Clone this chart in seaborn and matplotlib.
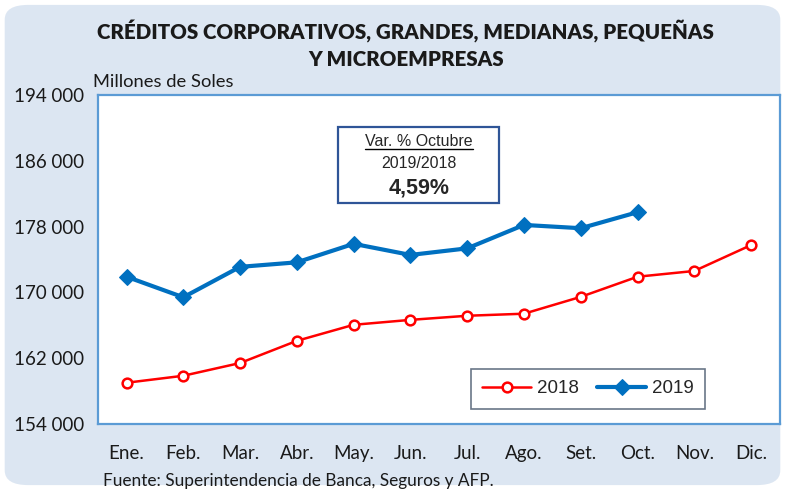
import matplotlib
matplotlib.use("Agg")
import matplotlib.pyplot as plt
from matplotlib.patches import FancyBboxPatch, Rectangle
from matplotlib.ticker import FixedLocator, FuncFormatter
import seaborn as sns
import pandas as pd

# data (millones de soles)
meses = ["Ene.", "Feb.", "Mar.", "Abr.", "May.", "Jun.", "Jul.", "Ago.", "Set.", "Oct.", "Nov.", "Dic."]
v2018 = [159000, 159850, 161400, 164100, 166050, 166650, 167150, 167400, 169450, 171900, 172600, 175750]
v2019 = [171900, 169400, 173100, 173650, 175900, 174550, 175350, 178200, 177800, 179750]
yticks = [154000, 162000, 170000, 178000, 186000, 194000]

df18 = pd.DataFrame({"x": range(len(v2018)), "valor": v2018})
df19 = pd.DataFrame({"x": range(len(v2019)), "valor": v2019})

sns.set_style("white")
plt.rcParams["font.family"] = ["Lato", "DejaVu Sans"]

fig = plt.figure(figsize=(7.85, 4.9), dpi=100)
fig.patch.set_facecolor("white")
bg = FancyBboxPatch((0.006, 0.01), 0.988, 0.98, boxstyle="round,pad=0,rounding_size=0.03",
                    transform=fig.transFigure, facecolor="#dce6f2", edgecolor="none", zorder=-10)
fig.patches.append(bg)

ax = fig.add_axes([0.125, 0.135, 0.868, 0.671])
ax.set_facecolor("white")

sns.lineplot(data=df18, x="x", y="valor", ax=ax, color="#ff0000", linewidth=1.8,
             marker="o", markersize=7, markerfacecolor="white", markeredgecolor="#ff0000",
             markeredgewidth=1.8, label="2018")
sns.lineplot(data=df19, x="x", y="valor", ax=ax, color="#0070c0", linewidth=3,
             marker="D", markersize=8, markerfacecolor="#0070c0", markeredgecolor="#0070c0",
             label="2019")

ax.set_xlim(-0.5, 11.5)
ax.set_ylim(154000, 194000)
ax.set_xticks(range(12))
ax.set_xticklabels(meses)
ax.xaxis.set_minor_locator(FixedLocator([i - 0.5 for i in range(13)]))
ax.tick_params(axis="x", which="major", length=0, pad=15, labelsize=13.5, colors="#1a1a1a")
ax.tick_params(axis="x", which="minor", length=5, width=1, color="#5b9bd5", direction="out")
ax.set_yticks(yticks)
ax.yaxis.set_major_formatter(FuncFormatter(lambda v, p: f"{int(v):,}".replace(",", " ")))
ax.tick_params(axis="y", length=5, width=1, color="#5b9bd5", direction="out", labelsize=13.5,
               labelcolor="#1a1a1a", pad=5)
ax.set_xlabel("")
ax.set_ylabel("")
for s in ax.spines.values():
    s.set_visible(True)
    s.set_color("#5b9bd5")
    s.set_linewidth(1.6)

leg = ax.legend(loc="lower right", bbox_to_anchor=(0.89, 0.046), borderaxespad=0, ncol=2,
                frameon=True, fancybox=False, prop={"family": "Liberation Sans", "size": 13.5},
                handlelength=2.6, columnspacing=1.0, handletextpad=0.3, borderpad=0.6)
leg.get_frame().set_edgecolor("#44546a")
leg.get_frame().set_linewidth(1.2)

# annotation box
box = Rectangle((0.352, 0.672), 0.237, 0.232, transform=ax.transAxes, facecolor="white",
                edgecolor="#2f5597", linewidth=1.6, zorder=5)
ax.add_patch(box)
t1 = ax.text(0.4705, 0.858, "Var. % Octubre", transform=ax.transAxes, ha="center", va="center",
             family="Liberation Sans", fontsize=11.5, zorder=6)
ax.text(0.4705, 0.792, "2019/2018", transform=ax.transAxes, ha="center", va="center",
        family="Liberation Sans", fontsize=11.5, zorder=6)
ax.text(0.4705, 0.717, "4,59%", transform=ax.transAxes, ha="center", va="center",
        family="Liberation Sans", fontsize=15.5, fontweight="bold", zorder=6)
fig.canvas.draw()
bb = t1.get_window_extent().transformed(ax.transAxes.inverted())
ax.plot([bb.x0, bb.x1], [bb.y0 + 0.002, bb.y0 + 0.002], transform=ax.transAxes,
        color="black", linewidth=1, zorder=6)

fig.text(0.517, 0.935, "CRÉDITOS CORPORATIVOS, GRANDES, MEDIANAS, PEQUEÑAS",
         ha="center", va="center", fontsize=14.8, fontweight="heavy", color="#1a1a1a")
fig.text(0.517, 0.878, "Y MICROEMPRESAS", ha="center", va="center", fontsize=14.8,
         fontweight="heavy", color="#1a1a1a")
fig.text(0.118, 0.832, "Millones de Soles", ha="left", va="center", fontsize=13.2, color="#1a1a1a")
fig.text(0.131, 0.018, "Fuente: Superintendencia de Banca, Seguros y AFP.", ha="left",
         va="center", fontsize=12.4, color="#1a1a1a")

fig.savefig("out.png", dpi=100, facecolor=fig.get_facecolor())
